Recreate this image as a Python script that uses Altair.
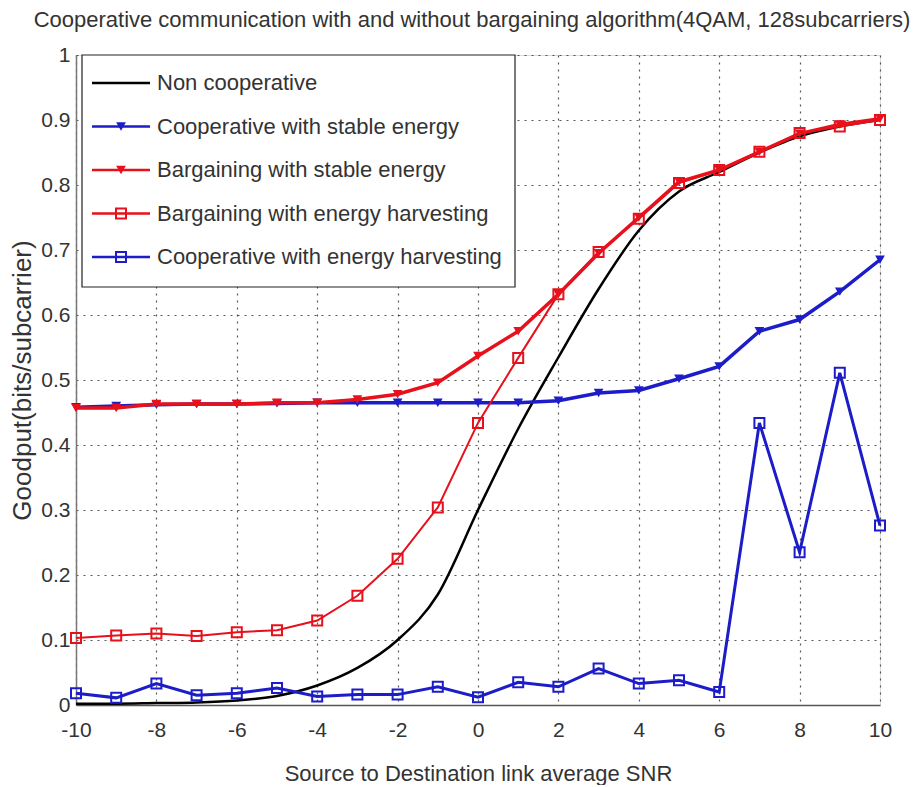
import altair as alt
import pandas as pd

# ---------------- data ----------------
snr = list(range(-10, 11))

non_coop = [0.002, 0.002, 0.003, 0.004, 0.007, 0.014, 0.030, 0.057, 0.100, 0.170,
            0.300, 0.425, 0.535, 0.640, 0.730, 0.790, 0.820, 0.850, 0.875, 0.890, 0.900]
coop_stable = [0.458, 0.460, 0.462, 0.463, 0.463, 0.464, 0.465, 0.465, 0.465, 0.465,
               0.465, 0.465, 0.468, 0.480, 0.484, 0.502, 0.521, 0.575, 0.593, 0.636, 0.685]
barg_stable = [0.457, 0.457, 0.463, 0.463, 0.463, 0.465, 0.465, 0.470, 0.478, 0.496,
               0.537, 0.575, 0.632, 0.695, 0.750, 0.805, 0.823, 0.851, 0.879, 0.893, 0.902]
barg_harv = [0.103, 0.107, 0.110, 0.106, 0.112, 0.115, 0.130, 0.168, 0.225, 0.304,
             0.434, 0.534, 0.632, 0.697, 0.748, 0.803, 0.823, 0.851, 0.880, 0.890, 0.900]
coop_harv = [0.018, 0.011, 0.033, 0.015, 0.018, 0.026, 0.013, 0.016, 0.016, 0.028,
             0.012, 0.035, 0.028, 0.056, 0.033, 0.038, 0.020, 0.434, 0.235, 0.511, 0.276]

series_names = [
    "Non cooperative",
    "Cooperative with stable energy",
    "Bargaining with stable energy",
    "Bargaining with energy harvesting",
    "Cooperative with energy harvesting",
]
series_values = [non_coop, coop_stable, barg_stable, barg_harv, coop_harv]
series_markers = ["none", "triangle-down", "triangle-down", "square", "square"]

x_ticks = [-10, -8, -6, -4, -2, 0, 2, 4, 6, 8, 10]
y_ticks = [0, 0.1, 0.2, 0.3, 0.4, 0.5, 0.6, 0.7, 0.8, 0.9, 1]

TITLE = "Cooperative communication with and without bargaining algorithm(4QAM, 128subcarriers)"
X_TITLE = "Source to Destination link average SNR"
Y_TITLE = "Goodput(bits/subcarrier)"

# ---------------- styling ----------------
BLUE = "#1c1cc8"
RED = "#e8101a"
colors = ["#000000", BLUE, RED, RED, BLUE]
widths = [2.5, 3.5, 3.5, 2.0, 3.0]
interps = ["monotone", "linear", "linear", "linear", "linear"]
draw_order = [0, 1, 3, 2, 4]

FONT = "Liberation Sans, Arial, sans-serif"
TEXT = "#333333"
GRID = dict(gridColor="#222222", gridDash=[2, 5], gridWidth=1.2, gridOpacity=0.75)

rows = []
for name, vals, mk in zip(series_names, series_values, series_markers):
    for xv, yv in zip(snr, vals):
        rows.append({"snr": xv, "goodput": yv, "series": name, "marker": mk})
df = pd.DataFrame(rows)

legend_df = pd.DataFrame({"series": series_names, "marker": series_markers})

x_enc = alt.X(
    "snr:Q",
    scale=alt.Scale(domain=[-10, 10], nice=False),
    axis=alt.Axis(
        values=x_ticks, labelExpr="'' + datum.value", title=X_TITLE,
        grid=True, ticks=False, labelPadding=14, labelFlush=False,
        titleY=68, titleBaseline="middle",
        labelFont=FONT, labelFontSize=21, labelColor=TEXT,
        titleFont=FONT, titleFontSize=22, titleFontWeight="normal", titleColor=TEXT,
        domainColor="#555555", domainWidth=1.5, **GRID,
    ),
)
y_enc = alt.Y(
    "goodput:Q",
    scale=alt.Scale(domain=[0, 1], nice=False),
    axis=alt.Axis(
        values=y_ticks, labelExpr="'' + datum.value", title=Y_TITLE,
        grid=True, ticks=False, labelPadding=6, labelFlush=False,
        titleX=-54, titleBaseline="middle",
        labelFont=FONT, labelFontSize=21, labelColor=TEXT,
        titleFont=FONT, titleFontSize=26, titleFontWeight="normal", titleColor=TEXT,
        domainColor="#777777", domainWidth=1.5, **GRID,
    ),
)
color_scale = alt.Scale(domain=series_names, range=colors)
color_enc = alt.Color("series:N", scale=color_scale, legend=None)

# ---------------- data layers ----------------
base = alt.Chart(df)
data_layers = []
for idx in draw_order:
    name = series_names[idx]
    sub = base.transform_filter(alt.datum.series == name)
    data_layers.append(
        sub.mark_line(strokeWidth=widths[idx], interpolate=interps[idx])
        .encode(x=x_enc, y=y_enc, color=color_enc)
    )
    m = series_markers[idx]
    if m == "triangle-down":
        data_layers.append(
            sub.mark_point(shape="triangle-down", filled=True, size=95, opacity=1)
            .encode(x=x_enc, y=y_enc, color=color_enc)
        )
    elif m == "square":
        data_layers.append(
            sub.mark_point(shape="square", filled=False, size=100, strokeWidth=2, opacity=1)
            .encode(x=x_enc, y=y_enc, color=color_enc)
        )
main = alt.layer(*data_layers)

# ---------------- legend (rows placed by a point scale over the series) ----------------
leg_y = alt.Y("series:N", scale=alt.Scale(type="point", domain=series_names, range=[28, 202], padding=0), axis=None)
leg_base = alt.Chart(legend_df)
legend_box = alt.Chart(pd.DataFrame({"box": [0]})).mark_rect(
    fill="white", stroke="#222222", strokeWidth=1.2
).encode(x=alt.value(6), x2=alt.value(439), y=alt.value(0), y2=alt.value(232))
legend_lines = leg_base.mark_rule(strokeWidth=2.5).encode(
    x=alt.value(16), x2=alt.value(74), y=leg_y, color=color_enc
)
legend_tri = leg_base.transform_filter(alt.datum.marker == "triangle-down").mark_point(
    shape="triangle-down", filled=True, size=95, opacity=1
).encode(x=alt.value(45), y=leg_y, color=color_enc)
legend_sq = leg_base.transform_filter(alt.datum.marker == "square").mark_point(
    shape="square", filled=False, size=100, strokeWidth=2, opacity=1
).encode(x=alt.value(45), y=leg_y, color=color_enc)
legend_text = leg_base.mark_text(
    align="left", baseline="middle", font=FONT, fontSize=22, color=TEXT
).encode(x=alt.value(81), y=leg_y, text="series:N")
legend = alt.layer(legend_box, legend_lines, legend_tri, legend_sq, legend_text)

chart = (
    alt.layer(main, legend)
    .resolve_scale(y="independent")
    .properties(
        width=804, height=650,
        autosize=alt.AutoSizeParams(type="none"),
        padding={"left": 68, "top": 47, "right": 35, "bottom": 80},
        title=alt.TitleParams(
            TITLE, font=FONT, fontSize=22, fontWeight="normal", color=TEXT,
            anchor="middle", offset=12, dx=-6,
        ),
    )
    .configure_view(strokeWidth=0)
    .configure(background="white")
)

chart.save("out.html", embed_options={"renderer": "svg", "actions": False})
